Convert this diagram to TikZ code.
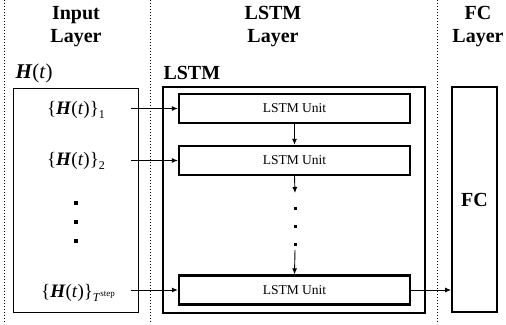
\documentclass[tikz,border=0pt]{standalone}
\usepackage{fontspec}
\setmainfont{Liberation Serif}
\usetikzlibrary{arrows.meta,calc}

\newcommand{\Hvec}{\textbf{\textit{H}}(\textit{t})}
\newcommand{\idx}[1]{\raisebox{-0.45ex}{\fontsize{12}{13}\selectfont #1}}

\tikzset{
    sep/.style={dotted, line width=1pt},
    inbox/.style={draw, line width=1pt, minimum width=125pt, minimum height=224pt},
    outbox/.style={draw, line width=2pt},
    unitbox/.style={draw, line width=2.4pt, minimum width=231pt, minimum height=29pt, font=\fontsize{13.5}{15}\selectfont},
    title/.style={font=\fontsize{20}{23}\selectfont\bfseries, align=center},
    setlab/.style={font=\fontsize{19}{21}\selectfont},
    arr/.style={-{Latex[length=6pt,width=5pt]}, line width=0.9pt},
    dot/.style={fill, rectangle, inner sep=0pt, minimum size=3.2pt}
}

\begin{document}
\begin{tikzpicture}[x=1pt,y=-1pt]
        \useasboundingbox (0,0) rectangle (506,324);

        % Layer separators
        \draw[sep] (4,0) -- (4,324);
        \draw[sep] (150,0) -- (150,324);
        \draw[sep] (437,0) -- (437,324);

        % Titles
        \node[title] (tin) at (76,27) {Input\\Layer};
        \node[title] (tlstm) at (273,27) {LSTM\\Layer};
        \node[title] (tfc) at (478,27) {FC\\Layer};

        % Input layer
        \node[font=\fontsize{21}{23}\selectfont, anchor=west] (hlab) at (12,73) {\Hvec};
        \node[inbox] (input) at (75.5,200) {};
        \node[setlab] (l1) at (76,110) {\{\Hvec\}\idx{1}};
        \node[setlab] (l2) at (76,161) {\{\Hvec\}\idx{2}};
        \node[setlab] (l3) at (78,293) {\{\Hvec\}\idx{\textit{T}\raisebox{0.9ex}{\fontsize{9}{10}\selectfont step}}};
        \foreach \y in {203,222,241}
            \node[dot] at (76,\y) {};

        % LSTM layer
        \node[title, anchor=west] (llab) at (160,73) {LSTM};
        \node[outbox, minimum width=262pt, minimum height=226pt] (lstm) at (294,200) {};
        \node[unitbox] (u1) at (294.5,108.5) {LSTM Unit};
        \node[unitbox] (u2) at (294.5,160.5) {LSTM Unit};
        \node[unitbox] (u3) at (294.5,290) {LSTM Unit};
        \draw[arr] (u1.south) -- (u2.north);
        \coordinate (d1) at (295,193);
        \coordinate (d2) at (295,250);
        \draw[arr] (u2.south) -- (d1);
        \foreach \y in {208,226,244}
            \node[dot, minimum size=3pt] at (295,\y) {};
        \draw[arr] (d2) -- (u3.north);

        % FC layer
        \node[outbox, minimum width=45pt, minimum height=225pt, font=\fontsize{20}{23}\selectfont\bfseries] (fc) at (474.5,199.5) {FC};

        % Connections
        \draw[arr] ([xshift=-8pt]input.east |- u1) -- (u1.west);
        \draw[arr] ([xshift=-8pt]input.east |- u2) -- (u2.west);
        \draw[arr] ([xshift=-8pt]input.east |- u3) -- (u3.west);
        \draw[arr] (u3.east) -- (u3.east -| fc.west);

    \end{tikzpicture}
\end{document}
